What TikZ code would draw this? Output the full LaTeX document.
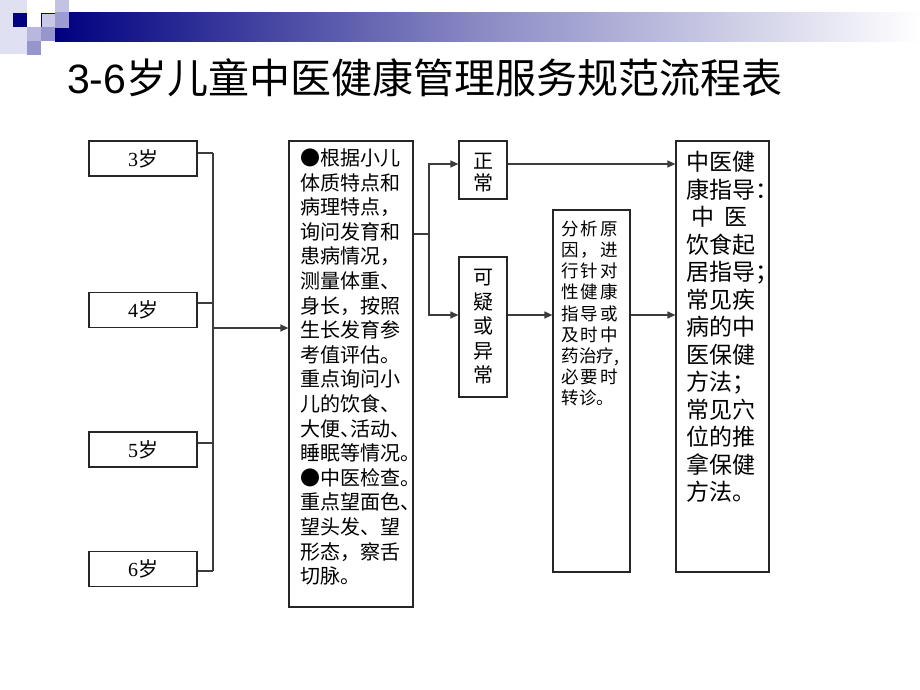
\documentclass[tikz,border=0pt]{standalone}
\usepackage{fontspec}
\setmainfont{Liberation Serif}
\newfontfamily\cjk{Noto Sans CJK SC}
\newfontfamily\cjkh[RawFeature=+halt]{Noto Sans CJK SC}
\newfontfamily\titlesans{Liberation Sans}
\usetikzlibrary{arrows.meta}
\definecolor{navy}{RGB}{0,0,128}
\definecolor{lavA}{RGB}{224,224,243}
\definecolor{lavB}{RGB}{184,184,222}
\definecolor{lavC}{RGB}{150,150,204}
\definecolor{lavD}{RGB}{200,200,230}
\definecolor{lineC}{RGB}{60,60,60}
\def\sprA#1{\ifx\relax#1\unskip\else#1\hfil\expandafter\sprA\fi}
\newcommand\jl[2]{\hbox to #1{\sprA#2\relax}}
\tikzset{
  box/.style={draw=black!85, line width=1.2pt, inner sep=0pt},
  agebox/.style={box, minimum width=108pt, minimum height=35pt,
    font=\fontsize{20}{24}\selectfont},
  conn/.style={draw=lineC, line width=1.2pt},
  arr/.style={conn, -{Triangle[length=8pt,width=7pt]}},
  txt/.style={inner sep=0pt, align=left},
}
\begin{document}
\begin{tikzpicture}[x=1pt,y=-1pt]
\fill[white] (0,0) rectangle (920,690);
\path[use as bounding box] (0,0) rectangle (920,690);
% decoration
\shade[left color=navy, right color=white, middle color=navy!45!white] (55,13) rectangle (920,42);
\fill[lavA] (0,0) rectangle (27,54);
\fill[navy] (13,13) rectangle (27,27);
\fill[lavB] (27,27) rectangle (41,41);
\fill[lavC] (27,41) rectangle (41,55);
\fill[lavD] (41,13) rectangle (55,27);
\draw[navy, line width=0.8pt] (41,27) -- (41,13) -- (55,13);
\fill[lavC] (41,27) rectangle (55,41);
\fill[lavB, opacity=0.85] (55,0) rectangle (69,28);
% title
\node[anchor=west, inner sep=0pt] (title) at (67,78)
  {{\titlesans\fontsize{41}{46}\selectfont 3-6}{\cjk\fontsize{41}{46}\selectfont 岁儿童中医健康管理服务规范流程表}};
% age boxes
\node[agebox] (a3) at (143,158.5) {3{\cjk 岁}};
\node[agebox] (a4) at (143,310) {4{\cjk 岁}};
\node[agebox] (a5) at (143,449.5) {5{\cjk 岁}};
\node[agebox] (a6) at (143,569) {6{\cjk 岁}};
% main boxes
\node[box, minimum width=124pt, minimum height=466pt] (main) at (351,374) {};
\node[box, minimum width=48pt, minimum height=58pt] (zc) at (483,170) {};
\node[box, minimum width=48pt, minimum height=140pt] (yc) at (483,327) {};
\node[box, minimum width=77pt, minimum height=362pt] (an) at (591.5,391) {};
\node[box, minimum width=93pt, minimum height=431pt] (rb) at (722.5,356.5) {};
% texts
\node[txt, anchor=north west, font=\cjk\fontsize{20}{24.6}\selectfont] (maint)
  at ([shift={(12pt,-8pt)}]main.north west) {%
  \jl{100pt}{●根据小儿}\\ 体质特点和\\ 病理特点，\\ 询问发育和\\ 患病情况，\\
  测量体重、\\ 身长，按照\\ 生长发育参\\ 考值评估。\\ 重点询问小\\ 儿的饮食、\\
  {\cjkh 大便、活动、}\\ {\cjkh 睡眠等情况。}\\ ●中医检查。\\ {\cjkh 重点望面色、}\\
  望头发、望\\ 形态，察舌\\ 切脉。};
\node[txt, align=center, font=\cjk\fontsize{20}{22}\selectfont] (zct) at ([yshift=-3pt]zc.center) {正\\ 常};
\node[txt, align=center, font=\cjk\fontsize{20}{24.5}\selectfont] (yct) at (yc.center) {可\\ 疑\\ 或\\ 异\\ 常};
\node[txt, anchor=north west, font=\cjk\fontsize{17.5}{21.2}\selectfont] (ant)
  at ([shift={(9pt,-11pt)}]an.north west) {%
  \jl{56pt}{分析原}\\ \jl{56pt}{因，进}\\ \jl{56pt}{行针对}\\ \jl{56pt}{性健康}\\
  \jl{56pt}{指导或}\\ \jl{56pt}{及时中}\\ 药治疗,\\ \jl{56pt}{必要时}\\ 转诊。};
\node[txt, anchor=north west, font=\cjk\fontsize{23}{27.5}\selectfont] (rbt)
  at ([shift={(11pt,-11pt)}]rb.north west) {%
  中医健\\ {\cjkh 康指导：}\\ \hspace*{5pt}中\hspace{10pt}医\\ 饮食起\\ {\cjkh 居指导；}\\
  常见疾\\ 病的中\\ 医保健\\ {\cjkh 方法；}\\ 常见穴\\ 位的推\\ 拿保健\\ 方法。};
% connectors
\coordinate (bus) at (213,0);
\coordinate (fork) at (429,0);
\draw[conn] ([yshift=5.5pt]a3.east) -- ([yshift=5.5pt]a3.east -| bus);
\draw[conn] ([yshift=7pt]a4.east) -- ([yshift=7pt]a4.east -| bus);
\draw[conn] ([yshift=6.5pt]a5.east) -- ([yshift=6.5pt]a5.east -| bus);
\draw[conn] ([yshift=-2pt]a6.east) -- ([yshift=-2pt]a6.east -| bus);
\draw[conn] ([yshift=5.5pt]a3.east -| bus) -- ([yshift=-2pt]a6.east -| bus);
\draw[arr] ([yshift=46pt]main.west -| bus) -- ([yshift=46pt]main.west);
\draw[conn] ([yshift=140pt]main.east) -- ([yshift=140pt]main.east -| fork);
\draw[arr] ([yshift=140pt]main.east -| fork) |- ([yshift=6pt]zc.west);
\draw[arr] ([yshift=140pt]main.east -| fork) |- ([yshift=12pt]yc.west);
\draw[arr] ([yshift=6pt]zc.east) -- ([yshift=6pt]zc.east -| rb.west);
\draw[arr] ([yshift=12pt]yc.east) -- ([yshift=12pt]yc.east -| an.west);
\draw[arr] ([yshift=12pt]yc.east -| an.east) -- ([yshift=12pt]yc.east -| rb.west);
\end{tikzpicture}
\end{document}
